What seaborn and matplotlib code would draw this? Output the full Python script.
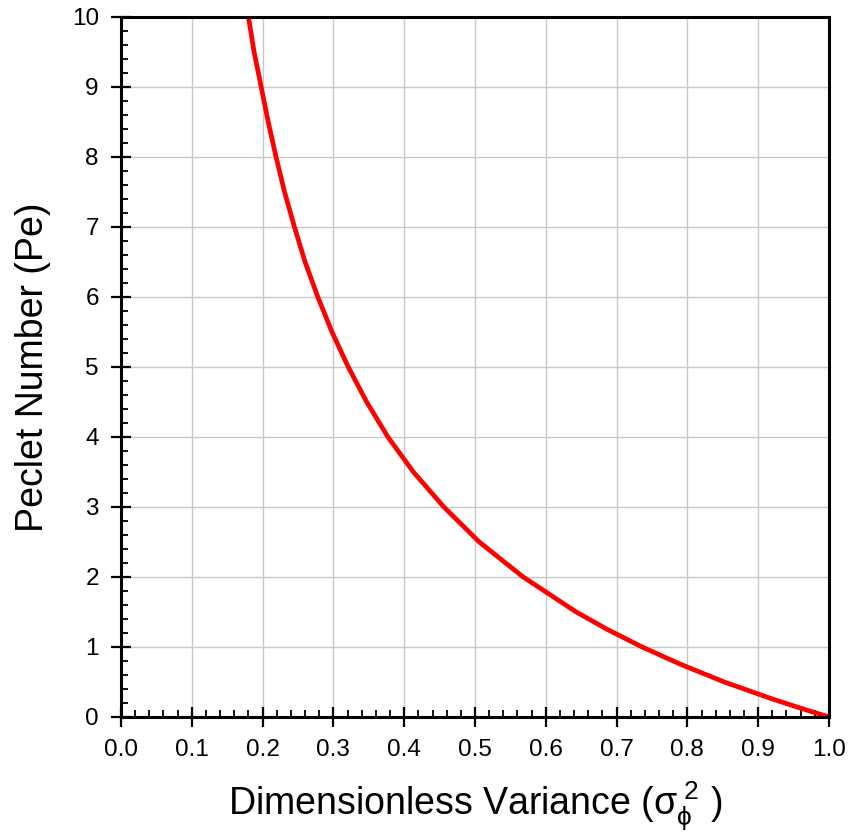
import numpy as np
import pandas as pd
import matplotlib
matplotlib.use("Agg")
import matplotlib.pyplot as plt
from matplotlib.ticker import MultipleLocator, FormatStrFormatter
import seaborn as sns

# values
peclet = [10, 9.5, 9, 8.5, 8, 7.5, 7, 6.5, 6, 5.5, 5, 4.5, 4, 3.5, 3, 2.5, 2, 1.5, 1.25,
          1, 0.75, 0.5, 0.25, 0.1, 0]
variance = [0.180, 0.188, 0.198, 0.208, 0.219, 0.231, 0.245, 0.260, 0.278, 0.298, 0.321,
            0.347, 0.377, 0.413, 0.456, 0.506, 0.568, 0.643, 0.687, 0.736, 0.791, 0.852,
            0.922, 0.968, 1.0]

x_ticks = [0.0, 0.1, 0.2, 0.3, 0.4, 0.5, 0.6, 0.7, 0.8, 0.9, 1.0]
y_ticks = list(range(0, 11))

df = pd.DataFrame({"variance": variance, "peclet": peclet})

sns.set_style("ticks")
plt.rcParams["font.family"] = ["Liberation Sans", "DejaVu Sans"]
plt.rcParams["mathtext.fontset"] = "custom"
plt.rcParams["mathtext.rm"] = "Liberation Sans"
plt.rcParams["mathtext.it"] = "Liberation Sans:italic"
plt.rcParams["text.color"] = "black"
plt.rcParams["axes.labelcolor"] = "black"

fig = plt.figure(figsize=(8.51, 8.33), dpi=100)
ax = fig.add_axes([0.1422, 0.1393, 0.9741 - 0.1422, 0.9796 - 0.1393])

sns.lineplot(data=df, x="variance", y="peclet", sort=False, estimator=None,
             color="#ff0000", linewidth=3.4, ax=ax, zorder=3)

ax.set_xlim(0, 1)
ax.set_ylim(0, 10)
ax.set_xticks(x_ticks)
ax.set_yticks(y_ticks)
ax.xaxis.set_major_formatter(FormatStrFormatter("%.1f"))
ax.xaxis.set_minor_locator(MultipleLocator(0.02))
ax.yaxis.set_minor_locator(MultipleLocator(0.2))
ax.grid(True, which="major", color="#c8c8c8", linewidth=1.0)
ax.set_axisbelow(True)

for side in ["left", "right", "top", "bottom"]:
    ax.spines[side].set_visible(True)
    ax.spines[side].set_linewidth(2.2)
    ax.spines[side].set_color("black")
    ax.spines[side].set_zorder(4)

ax.tick_params(which="major", direction="inout", length=14, width=1.6,
               labelsize=17.5, colors="black", pad=9)
ax.tick_params(which="minor", direction="in", length=5, width=1.3, colors="black")

ax.set_xlabel(r"Dimensionless Variance ($\mathregular{σ_ϕ^{\ 2}}$ )", fontsize=27, labelpad=13)
ax.set_ylabel("Peclet Number (Pe)", fontsize=27, labelpad=15)

plt.savefig("out.png", dpi=100)
